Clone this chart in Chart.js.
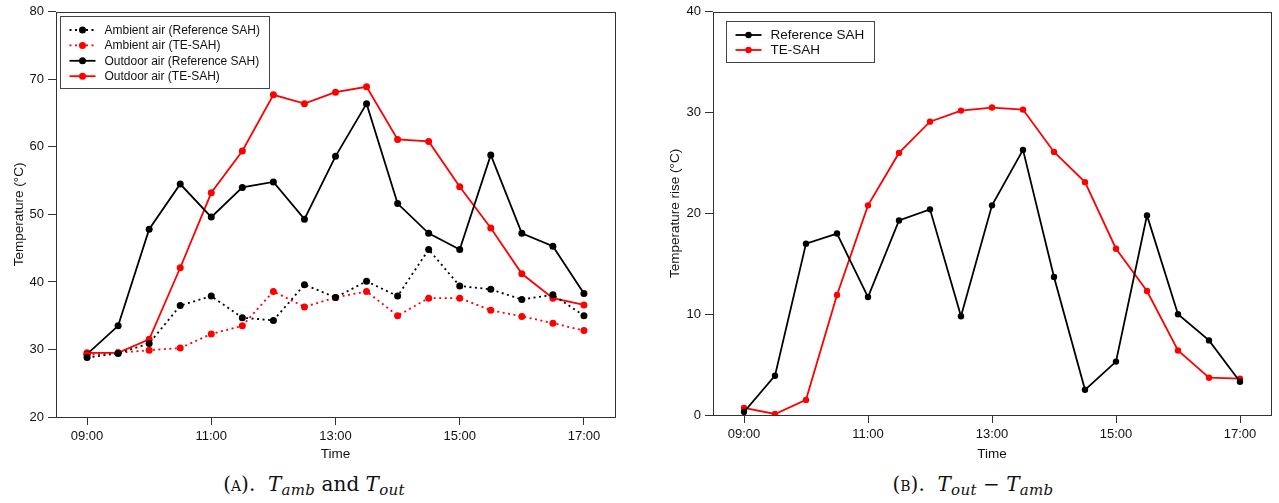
<!DOCTYPE html>
<html>
<head>
<meta charset="utf-8">
<script src="https://cdn.jsdelivr.net/npm/chart.js@4.4.0/dist/chart.umd.min.js"></script>
<style>
  body { margin: 0; background: #fff; width: 1279px; height: 503px; overflow: hidden; position: relative; }
  canvas { position: absolute; top: 0; }
  #chartA { left: 0; }
  #chartB { left: 640px; }
  .cap { position: absolute; top: 472px; font-family: "DejaVu Serif", "Liberation Serif", serif; font-size: 20px;
         white-space: nowrap; transform: translateX(-50%); color: #111; line-height: 24px; }
  .cap sub { font-size: 15px; vertical-align: -4px; line-height: 0; }
  .cap i { letter-spacing: 0.3px; }
  .sc { font-variant: small-caps; }
</style>
</head>
<body>
<canvas id="chartA" width="640" height="470"></canvas>
<canvas id="chartB" width="639" height="470"></canvas>
<div class="cap" style="left:314px">(<span class="sc">a</span>).&nbsp; <i>T<sub>amb</sub></i> and <i>T<sub>out</sub></i></div>
<div class="cap" style="left:973px">(<span class="sc">b</span>).&nbsp; <i>T<sub>out</sub></i> &minus; <i>T<sub>amb</sub></i></div>

<script>
// time of each reading
const times = ['09:00','09:30','10:00','10:30','11:00','11:30','12:00','12:30','13:00',
               '13:30','14:00','14:30','15:00','15:30','16:00','16:30','17:00'];
const xTickLabels = ['09:00', '11:00', '13:00', '15:00', '17:00'];

// (A) temperatures, degC
const ambientRef = [28.8, 29.4, 30.9, 36.5, 37.9, 34.7, 34.3, 39.6, 37.7, 40.1, 37.9, 44.8, 39.4, 38.9, 37.4, 38.1, 35.0];
const ambientTE  = [29.2, 29.5, 29.9, 30.2, 32.3, 33.5, 38.6, 36.3, 37.7, 38.6, 35.0, 37.6, 37.6, 35.8, 34.9, 33.9, 32.8];
const outdoorRef = [29.3, 33.5, 47.8, 54.5, 49.6, 54.0, 54.8, 49.3, 58.6, 66.4, 51.6, 47.2, 44.8, 58.8, 47.2, 45.3, 38.3];
const outdoorTE  = [29.5, 29.5, 31.5, 42.1, 53.2, 59.4, 67.7, 66.4, 68.1, 68.9, 61.1, 60.8, 54.1, 48.0, 41.2, 37.6, 36.6];

// (B) temperature rise, degC
const riseRef = [0.3, 3.9, 17.0, 18.0, 11.7, 19.3, 20.4, 9.8, 20.8, 26.3, 13.7, 2.5, 5.3, 19.8, 10.0, 7.4, 3.3];
const riseTE  = [0.7, 0.1, 1.5, 11.9, 20.8, 26.0, 29.1, 30.2, 30.5, 30.3, 26.1, 23.1, 16.5, 12.3, 6.4, 3.7, 3.6];

const hours = t => { const p = t.split(':'); return +p[0] + p[1] / 60; };
const pts = vals => vals.map((v, i) => ({ x: hours(times[i]), y: v }));

const SANS = '"Liberation Sans", Arial, sans-serif';
const AXIS = '#333';
const RED = '#f00';

// box round the plot area
const frame = {
  id: 'frame',
  afterDraw(chart) {
    const { ctx, chartArea: a } = chart;
    ctx.save();
    ctx.strokeStyle = AXIS;
    ctx.lineWidth = 1;
    ctx.strokeRect(Math.round(a.left) + 0.5, Math.round(a.top) + 0.5,
                   Math.round(a.right - a.left), Math.round(a.bottom - a.top));
    ctx.restore();
  }
};

// legend inside the plot, top left
const boxLegend = {
  id: 'boxLegend',
  afterDraw(chart, args, o) {
    const { ctx, chartArea: a } = chart;
    const sets = chart.data.datasets;
    ctx.save();
    ctx.font = o.size + 'px ' + SANS;
    let tw = 0;
    sets.forEach(d => { tw = Math.max(tw, ctx.measureText(d.label).width); });
    const x0 = Math.round(a.left + o.dx) + 0.5, y0 = Math.round(a.top + o.dy) + 0.5;
    const w = Math.round(44 + tw + 10), h = Math.round(26 + (sets.length - 1) * o.row);
    ctx.fillStyle = '#fff';
    ctx.fillRect(x0, y0, w, h);
    ctx.strokeStyle = '#444';
    ctx.lineWidth = 1;
    ctx.strokeRect(x0, y0, w, h);
    sets.forEach((d, i) => {
      const y = y0 + 13.5 + i * o.row;
      ctx.strokeStyle = d.borderColor;
      ctx.lineWidth = d.borderWidth;
      ctx.setLineDash(d.borderDash || []);
      ctx.beginPath();
      ctx.moveTo(x0 + 9, y);
      ctx.lineTo(x0 + 35, y);
      ctx.stroke();
      ctx.setLineDash([]);
      ctx.fillStyle = d.pointBackgroundColor;
      ctx.beginPath();
      ctx.arc(x0 + 22, y, d.pointRadius, 0, Math.PI * 2);
      ctx.fill();
      ctx.fillStyle = '#111';
      ctx.textBaseline = 'middle';
      ctx.fillText(d.label, x0 + 44, y + 0.5);
    });
    ctx.restore();
  }
};

function series(label, vals, color, dotted, r) {
  return {
    label, data: pts(vals),
    borderColor: color, backgroundColor: color,
    pointBackgroundColor: color, pointBorderWidth: 0,
    pointRadius: r, borderWidth: 1.8,
    borderDash: dotted ? [2, 3.5] : [],
    tension: 0
  };
}

function makeChart(id, datasets, o) {
  return new Chart(document.getElementById(id), {
    type: 'line',
    data: { datasets },
    plugins: [frame, boxLegend],
    options: {
      responsive: false,
      animation: false,
      devicePixelRatio: 1,
      layout: { padding: { left: 0, top: 11, right: o.padRight, bottom: 0 } },
      plugins: {
        legend: { display: false },
        tooltip: { enabled: false },
        boxLegend: o.legend
      },
      scales: {
        x: {
          type: 'linear', min: 8.5, max: 17.5,
          afterBuildTicks: s => { s.ticks = xTickLabels.map(t => ({ value: hours(t) })); },
          afterFit: s => { s.height = o.xHeight; },
          grid: { drawOnChartArea: false, drawTicks: true, tickLength: 8, color: AXIS, lineWidth: 1 },
          border: { display: false },
          ticks: {
            padding: 4, color: '#111', font: { family: SANS, size: 13 }, maxRotation: 0,
            callback: v => xTickLabels.find(t => hours(t) === v)
          },
          title: { display: true, text: 'Time', color: '#111', font: { family: SANS, size: 13.5 },
                   padding: { top: 0, bottom: 8 } }
        },
        y: {
          min: o.yMin, max: o.yMax,
          afterFit: s => { s.width = o.yWidth; },
          grid: { drawOnChartArea: false, drawTicks: true, tickLength: 8, color: AXIS, lineWidth: 1 },
          border: { display: false },
          ticks: { stepSize: 10, padding: o.yPad, color: '#111', font: { family: SANS, size: 13 } },
          title: { display: true, text: o.yTitle, color: '#111', font: { family: SANS, size: 13.5 },
                   padding: { top: o.yTitlePad, bottom: 0 } }
        }
      }
    }
  });
}

makeChart('chartA', [
  series('Ambient air (Reference SAH)', ambientRef, '#000', true, 3.5),
  series('Ambient air (TE-SAH)', ambientTE, RED, true, 3.5),
  series('Outdoor air (Reference SAH)', outdoorRef, '#000', false, 3.5),
  series('Outdoor air (TE-SAH)', outdoorTE, RED, false, 3.5)
], {
  yMin: 20, yMax: 80, yTitle: 'Temperature (°C)', yWidth: 56, yPad: 4, yTitlePad: 11,
  padRight: 25, xHeight: 53, legend: { dx: 4, dy: 4, size: 12, row: 15.4 }
});

makeChart('chartB', [
  series('Reference SAH', riseRef, '#000', false, 3.2),
  series('TE-SAH', riseTE, RED, false, 3.2)
], {
  yMin: 0, yMax: 40, yTitle: 'Temperature rise (°C)', yWidth: 73, yPad: 4, yTitlePad: 27,
  padRight: 8, xHeight: 55, legend: { dx: 13, dy: 9, size: 13.5, row: 15 }
});
</script>
</body>
</html>
